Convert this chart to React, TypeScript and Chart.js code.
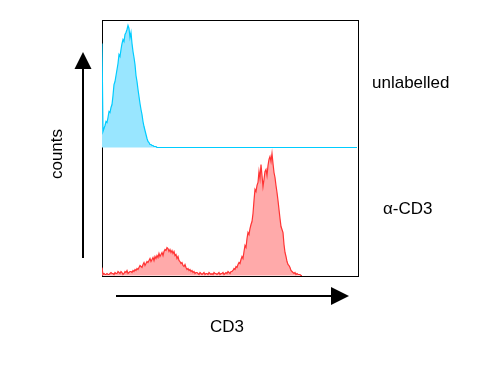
import React, { useEffect, useRef } from "react";
import { Chart, registerables } from "chart.js";

Chart.register(...registerables);

// CD3 fluorescence channel counts, one value per channel starting at channel 0
const unlabelledCounts = [
  104, 16, 19, 22, 26, 25, 30, 36, 35, 40, 43, 52, 63, 66, 72, 78, 84, 93, 91, 98,
  104, 108, 106, 113, 115, 118, 122, 119, 110, 115, 104, 96, 90, 83, 72, 66, 58, 51, 44, 38,
  33, 26, 21, 17, 13, 9, 6, 5, 3, 3, 2, 2, 1, 1, 1, 0,
];

const antiCD3Counts = [
  8, 1, 2, 1, 1, 2, 1, 1, 2, 3, 2, 2, 1, 3, 2, 2, 4, 3, 2, 4,
  3, 1, 2, 4, 3, 5, 2, 3, 4, 4, 3, 5, 4, 6, 5, 7, 6, 8, 10, 9,
  8, 11, 13, 10, 12, 14, 13, 15, 17, 14, 16, 18, 15, 19, 17, 20, 18, 22, 19, 21,
  23, 20, 24, 26, 25, 28, 27, 24, 26, 23, 25, 22, 24, 20, 21, 17, 19, 15, 14, 12,
  13, 10, 9, 11, 8, 6, 7, 5, 6, 4, 5, 3, 4, 2, 3, 3, 2, 1, 3, 2,
  1, 2, 3, 1, 2, 2, 1, 3, 2, 1, 2, 1, 3, 2, 2, 1, 2, 3, 1, 2,
  2, 3, 1, 2, 3, 2, 4, 3, 2, 4, 4, 5, 7, 6, 9, 8, 11, 13, 12, 16,
  19, 17, 24, 30, 28, 37, 43, 41, 47, 51, 54, 62, 75, 86, 84, 90, 93, 104, 97, 111,
  100, 89, 96, 104, 106, 100, 110, 116, 119, 114, 122, 112, 103, 98, 90, 83, 75, 66, 57, 49,
  46, 43, 31, 23, 19, 14, 11, 10, 8, 5, 4, 3, 2, 3, 1, 2, 1, 1, 1, 0, 0,
];

const channelCount = 256;
const panelMin = -0.5;
const panelMax = 127.5;
const seriesLabels = ["unlabelled", "α-CD3"];
const xAxisTitle = "CD3";
const yAxisTitle = "counts";

const toPoints = (arr: number[], padToEnd: boolean) => {
  const pts: { x: number; y: number }[] = [];
  const n = padToEnd ? channelCount : arr.length;
  for (let i = 0; i < n; i++) pts.push({ x: i, y: i < arr.length ? arr[i] : 0 });
  return pts;
};

const FONT = '17px "Liberation Sans", Arial, sans-serif';

const decorPlugin = {
  id: "decor",
  beforeDatasetsDraw(chart: any) {
    const { ctx, chartArea } = chart;
    const { left, top, right, bottom } = chartArea;
    ctx.save();
    ctx.strokeStyle = "#000";
    ctx.lineWidth = 1;
    ctx.strokeRect(left + 0.5, top + 0.5, right - left, bottom - top);
    ctx.restore();
  },
  afterDraw(chart: any) {
    const { ctx, chartArea, scales } = chart;
    const { left, right, bottom } = chartArea;
    ctx.save();
    ctx.fillStyle = "#000";
    ctx.strokeStyle = "#000";
    ctx.lineWidth = 2;
    // y arrow
    const ax = left - 19;
    ctx.beginPath();
    ctx.moveTo(ax, bottom - 18);
    ctx.lineTo(ax, 66);
    ctx.stroke();
    ctx.beginPath();
    ctx.moveTo(ax, 52);
    ctx.lineTo(ax - 8.5, 69);
    ctx.lineTo(ax + 8.5, 69);
    ctx.closePath();
    ctx.fill();
    // x arrow
    const ay = bottom + 20;
    ctx.beginPath();
    ctx.moveTo(left + 14, ay);
    ctx.lineTo(334, ay);
    ctx.stroke();
    ctx.beginPath();
    ctx.moveTo(349, ay);
    ctx.lineTo(331, ay - 9);
    ctx.lineTo(331, ay + 9);
    ctx.closePath();
    ctx.fill();
    // texts
    ctx.font = FONT;
    ctx.textBaseline = "middle";
    ctx.textAlign = "left";
    const yTop = scales.yTop;
    const yBot = scales.yBottom;
    ctx.fillText(seriesLabels[0], right + 14, yTop.getPixelForValue(64));
    ctx.fillText(seriesLabels[1], right + 25, yBot.getPixelForValue(66));
    ctx.textAlign = "center";
    ctx.fillText(xAxisTitle, (left + right) / 2 - 3, bottom + 51);
    ctx.save();
    ctx.translate(57, 154);
    ctx.rotate(-Math.PI / 2);
    ctx.fillText(yAxisTitle, 0, 0);
    ctx.restore();
    ctx.restore();
  },
};

export default function App() {
  const ref = useRef<HTMLCanvasElement>(null);
  useEffect(() => {
    if (!ref.current) return;
    const chart = new Chart(ref.current, {
      type: "line",
      data: {
        datasets: [
          {
            label: seriesLabels[0],
            data: toPoints(unlabelledCounts, true),
            yAxisID: "yTop",
            borderColor: "rgb(0,204,255)",
            backgroundColor: "rgb(153,230,255)",
            borderWidth: 1.2,
            pointRadius: 0,
            tension: 0,
            fill: { value: 0 },
          },
          {
            label: seriesLabels[1],
            data: toPoints(antiCD3Counts, false),
            yAxisID: "yBottom",
            borderColor: "rgb(255,51,51)",
            backgroundColor: "rgb(255,170,170)",
            borderWidth: 1.2,
            pointRadius: 0,
            tension: 0,
            fill: { value: 0 },
          },
        ],
      },
      options: {
        animation: false,
        responsive: false,
        devicePixelRatio: 1,
        layout: { padding: { left: 102, top: 20, right: 123, bottom: 91 } },
        plugins: { legend: { display: false }, tooltip: { enabled: false } },
        scales: {
          x: { type: "linear", min: 0, max: channelCount, display: false },
          yBottom: {
            type: "linear",
            min: panelMin,
            max: panelMax,
            display: false,
            stack: "panels",
            stackWeight: 1,
            position: "left",
          },
          yTop: {
            type: "linear",
            min: panelMin,
            max: panelMax,
            display: false,
            stack: "panels",
            stackWeight: 1,
            position: "left",
          },
        },
      },
      plugins: [decorPlugin],
    });
    return () => chart.destroy();
  }, []);
  return (
    <div style={{ position: "absolute", left: 0, top: 0, width: 481, height: 367, background: "#fff" }}>
      <canvas ref={ref} width={481} height={367} style={{ display: "block" }} />
    </div>
  );
}
